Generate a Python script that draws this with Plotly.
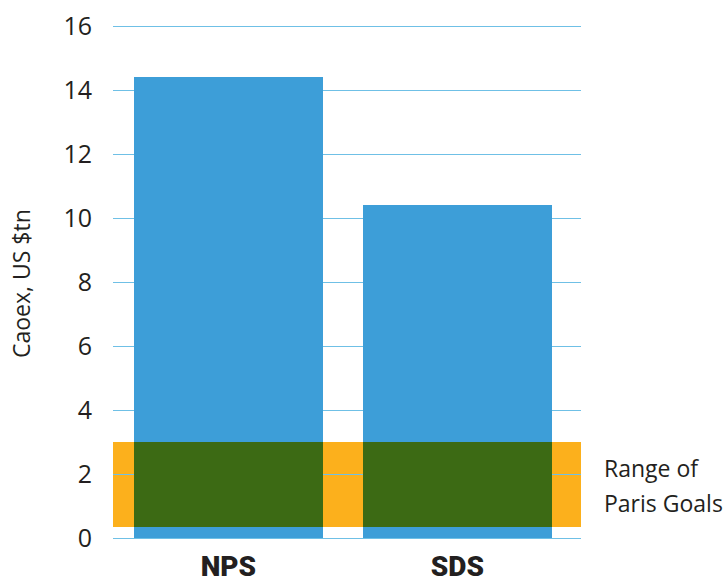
import plotly.graph_objects as go

categories = ["NPS", "SDS"]
capex = [14.4, 10.4]
paris_low = 0.35
paris_high = 3.0
y_ticks = [0, 2, 4, 6, 8, 10, 12, 14, 16]

blue = "#3d9ed8"
orange = "#fcb01c"
green = "#3c6a14"
grid = "#6fc0e6"
text_col = "#231f20"

W, H = 726, 583
ML, MR, MT, MB = 113, 145, 23, 43
PW = W - ML - MR

xs = list(range(len(categories)))
fig = go.Figure()
fig.add_trace(go.Bar(x=xs, y=capex, marker=dict(color=blue, line=dict(width=0)),
                     width=0.824, showlegend=False, hoverinfo="skip"))
fig.add_trace(go.Bar(x=xs, y=[paris_high - paris_low] * len(xs), base=[paris_low] * len(xs),
                     marker=dict(color=green, line=dict(width=0)), width=0.824,
                     showlegend=False, hoverinfo="skip"))
fig.update_layout(barmode="overlay")

fig.add_shape(type="rect", xref="paper", yref="y", x0=0, x1=1, y0=paris_low, y1=paris_high,
              fillcolor=orange, line=dict(width=0), layer="below")

fig.add_annotation(xref="paper", yref="paper", x=(602 - ML) / PW, y=(H - MB - 468) / (H - MT - MB),
                   text="Range of", showarrow=False, xanchor="left", yanchor="middle",
                   font=dict(family="Open Sans", size=23, color=text_col))
fig.add_annotation(xref="paper", yref="paper", x=(602 - ML) / PW, y=(H - MB - 503) / (H - MT - MB),
                   text="Paris Goals", showarrow=False, xanchor="left", yanchor="middle",
                   font=dict(family="Open Sans", size=23, color=text_col))
fig.add_annotation(xref="paper", yref="paper", x=(21 - ML) / PW, y=(H - MB - 284) / (H - MT - MB),
                   text="Caoex, US $tn", showarrow=False, textangle=-90,
                   xanchor="center", yanchor="middle",
                   font=dict(family="Open Sans", size=23, color=text_col))

fig.update_xaxes(range=[-0.504, 1.54], tickmode="array", tickvals=xs, ticktext=categories,
                 showgrid=False, zeroline=False, showline=False, ticks="", automargin=False,
                 ticklabelstandoff=7,
                 tickfont=dict(family="Roboto", size=28, color=text_col, weight=900))
fig.update_yaxes(range=[-0.06, 16.1], tickmode="array", tickvals=y_ticks,
                 showgrid=True, gridcolor=grid, gridwidth=1.3, zeroline=False, showline=False,
                 ticks="", ticklabelstandoff=20, automargin=False,
                 tickfont=dict(family="Open Sans", size=25, color=text_col))

fig.update_layout(width=W, height=H, margin=dict(l=ML, r=MR, t=MT, b=MB),
                  plot_bgcolor="white", paper_bgcolor="white", bargap=0)
fig.write_html("out.html", config={"displayModeBar": False},
               post_script="document.body.style.margin='0px';document.body.style.padding='0px';")
